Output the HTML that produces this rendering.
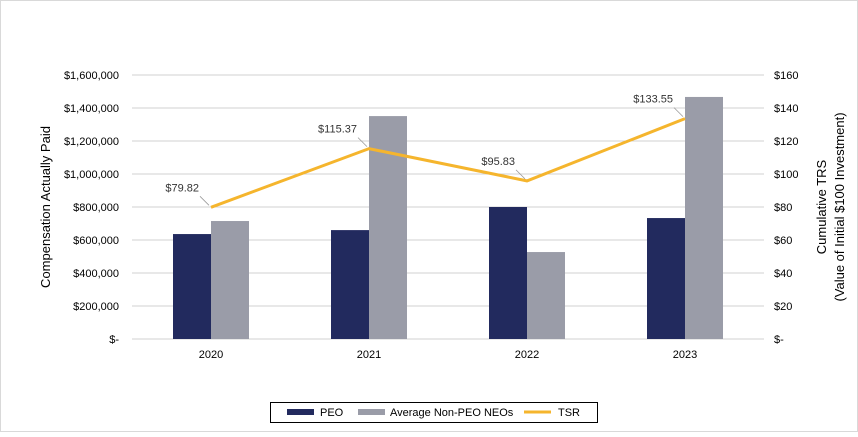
<!DOCTYPE html>
<html><head><meta charset="utf-8"><style>
body{margin:0;background:#fff;font-family:"Liberation Sans",sans-serif}
svg text{font-family:"Liberation Sans",sans-serif}
</style></head><body>
<svg width="858" height="432" viewBox="0 0 858 432">
<rect x="0.5" y="0.5" width="857" height="431" fill="#fff" stroke="#d9d9d9"/>
<g id="grid"></g><g id="bars"></g><g id="line"></g><g id="labels"></g>
<text x="50" y="207" font-size="13" fill="#000" text-anchor="middle" transform="rotate(-90 50 207)">Compensation Actually Paid</text>
<text transform="translate(826 207) rotate(-90)" font-size="13" text-anchor="middle"><tspan x="0" y="0">Cumulative TRS</tspan><tspan x="0" y="18">(Value of Initial $100 Investment)</tspan></text>
<g>
<rect x="270.5" y="402.5" width="327" height="20" fill="#fff" stroke="#000"/>
<rect x="287" y="409" width="27" height="6" fill="#222a5e"/>
<text x="320" y="416" font-size="11">PEO</text>
<rect x="358" y="409" width="27" height="6" fill="#9a9ca8"/>
<text x="390" y="416" font-size="11">Average Non-PEO NEOs</text>
<line x1="524" y1="412" x2="551" y2="412" stroke="#f5b52d" stroke-width="3"/>
<text x="558" y="416" font-size="11">TSR</text>
</g>
</svg>
<script>
const categories=["2020","2021","2022","2023"];
const peo=[636000,660000,800000,733000];
const neo=[715000,1351000,527000,1467000];
const tsr=[79.82,115.37,95.83,133.55];
const tsrLabels=["$79.82","$115.37","$95.83","$133.55"];
const leftTicks=["$-","$200,000","$400,000","$600,000","$800,000","$1,000,000","$1,200,000","$1,400,000","$1,600,000"];
const rightTicks=["$-","$20","$40","$60","$80","$100","$120","$140","$160"];
const NS="http://www.w3.org/2000/svg";
const x0=132,x1=764,y0=339,yTop=75;
const yL=v=>y0-(v/1600000)*(y0-yTop);
const yR=v=>y0-(v/160)*(y0-yTop);
const bw=(x1-x0)/categories.length;
const xc=i=>x0+bw*(i+0.5);
function mk(t,a,p){const e=document.createElementNS(NS,t);for(const k in a)e.setAttribute(k,a[k]);p.appendChild(e);return e;}
const grid=document.getElementById('grid'),bars=document.getElementById('bars'),line=document.getElementById('line'),labels=document.getElementById('labels');
leftTicks.forEach((t,i)=>{const y=y0-i*(y0-yTop)/8;
 const g=mk('line',{x1:x0,x2:x1,y1:y,y2:y,stroke:'#d0d0d0','stroke-width':1},grid);
 
 
 const a=mk('text',{x:119,y:y+4,'font-size':11,'text-anchor':'end'},grid);a.textContent=t;
 
 
 const b=mk('text',{x:774,y:y+4,'font-size':11},grid);b.textContent=rightTicks[i];
 
 
});
categories.forEach((c,i)=>{const cx=xc(i);
 const p=mk('rect',{x:cx-38,y:yL(peo[i]),width:38,height:y0-yL(peo[i]),fill:'#222a5e'},bars);
 
 
 const n=mk('rect',{x:cx,y:yL(neo[i]),width:38,height:y0-yL(neo[i]),fill:'#9a9ca8'},bars);
 
 
 const t=mk('text',{x:cx,y:358,'font-size':11,'text-anchor':'middle'},labels);t.textContent=c;
 
 
});
const pl=mk('polyline',{points:tsr.map((v,i)=>xc(i)+','+yR(v)).join(' '),fill:'none',stroke:'#f5b52d','stroke-width':3},line);


tsr.forEach((v,i)=>{const x=xc(i),y=yR(v);
 const l=mk('line',{x1:x-2,y1:y-2,x2:x-11,y2:y-11,stroke:'#999','stroke-width':0.8},labels);
 
 
 const t=mk('text',{x:x-12,y:y-16,'font-size':11,'text-anchor':'end',fill:'#333'},labels);t.textContent=tsrLabels[i];
 
 
});
</script>
</body></html>
